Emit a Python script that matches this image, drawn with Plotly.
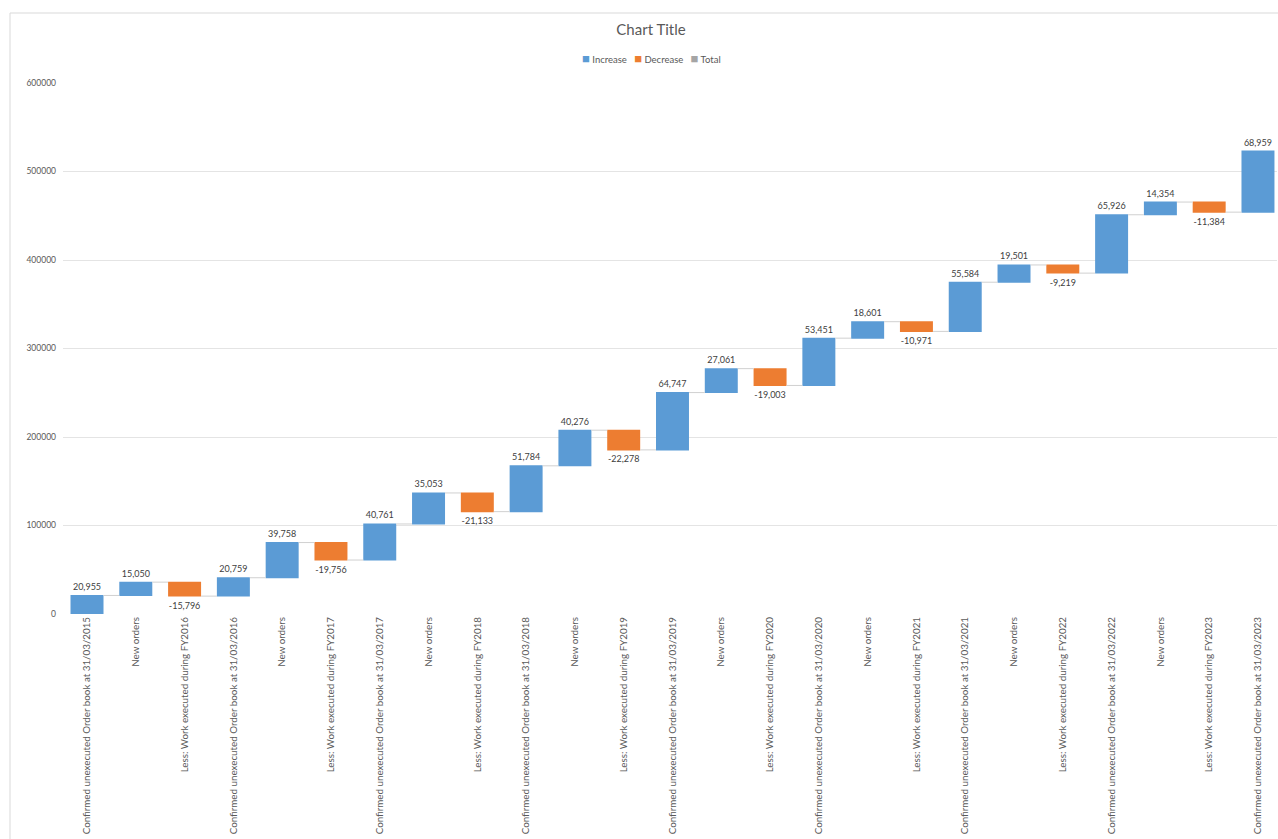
import plotly.graph_objects as go

categories = [
    "Confirmed unexecuted Order book at 31/03/2015",
    "New orders",
    "Less: Work executed during FY2016",
    "Confirmed unexecuted Order book at 31/03/2016",
    "New orders",
    "Less: Work executed during FY2017",
    "Confirmed unexecuted Order book at 31/03/2017",
    "New orders",
    "Less: Work executed during FY2018",
    "Confirmed unexecuted Order book at 31/03/2018",
    "New orders",
    "Less: Work executed during FY2019",
    "Confirmed unexecuted Order book at 31/03/2019",
    "New orders",
    "Less: Work executed during FY2020",
    "Confirmed unexecuted Order book at 31/03/2020",
    "New orders",
    "Less: Work executed during FY2021",
    "Confirmed unexecuted Order book at 31/03/2021",
    "New orders",
    "Less: Work executed during FY2022",
    "Confirmed unexecuted Order book at 31/03/2022",
    "New orders",
    "Less: Work executed during FY2023",
    "Confirmed unexecuted Order book at 31/03/2023",
]
values = [20955, 15050, -15796, 20759, 39758, -19756, 40761, 35053, -21133,
          51784, 40276, -22278, 64747, 27061, -19003, 53451, 18601, -10971,
          55584, 19501, -9219, 65926, 14354, -11384, 68959]
y_ticks = [0, 100000, 200000, 300000, 400000, 500000, 600000]
legend_names = ["Increase", "Decrease", "Total"]

BLUE = "#5B9BD5"
ORANGE = "#ED7D31"
GREY = "#A5A5A5"
FONT = "Lato"

W, H = 1278, 839
L, T, B = 63, 83, 225

idx = list(range(len(categories)))

fig = go.Figure()
fig.add_trace(go.Waterfall(
    x=idx,
    y=values,
    measure=["relative"] * len(values),
    text=[f"{v:,}" for v in values],
    textposition="outside",
    textfont=dict(size=9, color="#404040", family=FONT),
    increasing=dict(marker=dict(color=BLUE)),
    decreasing=dict(marker=dict(color=ORANGE)),
    totals=dict(marker=dict(color=GREY)),
    connector=dict(mode="between", line=dict(color="#D0D0D0", width=1)),
    showlegend=False,
    cliponaxis=False,
    hoverinfo="skip",
))

legend_colors = [BLUE, ORANGE, GREY]
legend_text = "   ".join(
    f"<span style='color:{c};font-size:13px'>■</span> {n}"
    for n, c in zip(legend_names, legend_colors)
)

plot_w = W - L - 1
plot_h = H - T - B
center_px = 651

fig.update_layout(
    width=W, height=H,
    margin=dict(l=L, r=1, t=T, b=B),
    paper_bgcolor="white", plot_bgcolor="white",
    font=dict(family=FONT, color="#595959", size=8),
    title=dict(text="Chart Title", x=center_px / W, xanchor="center", y=1 - 30 / H,
               yanchor="middle", font=dict(size=15, color="#595959", family=FONT)),
    showlegend=False,
    waterfallgap=0.324,
    xaxis=dict(
        tickmode="array", tickvals=idx, ticktext=categories, tickangle=-90,
        tickfont=dict(size=9.8, color="#595959"), showgrid=False, zeroline=False,
        showline=False, ticks="", range=[-0.492, len(categories) - 1 + 0.39],
    ),
    yaxis=dict(
        range=[0, 600000], tickvals=y_ticks, tickformat="d",
        tickfont=dict(size=8.5, color="#595959"), showgrid=True, gridcolor="#E4E4E4",
        gridwidth=1, zeroline=False, showline=False, ticks="", ticklabelstandoff=6,
    ),
    annotations=[dict(
        text=legend_text, xref="paper", yref="paper",
        x=(center_px - L) / plot_w, y=(H - B - 58) / plot_h,
        xanchor="center", yanchor="middle", showarrow=False,
        font=dict(size=9.5, color="#595959", family=FONT),
    )],
    shapes=[dict(type="rect", xref="paper", yref="paper",
                 x0=(10 - L) / plot_w, x1=1.02, y0=-1, y1=(H - B - 13) / plot_h,
                 line=dict(color="#D9D9D9", width=1), layer="below")],
)

fig.write_html(
    "out.html",
    config={"displayModeBar": False},
    post_script="document.body.style.margin='0px';document.body.style.overflow='hidden';",
)
